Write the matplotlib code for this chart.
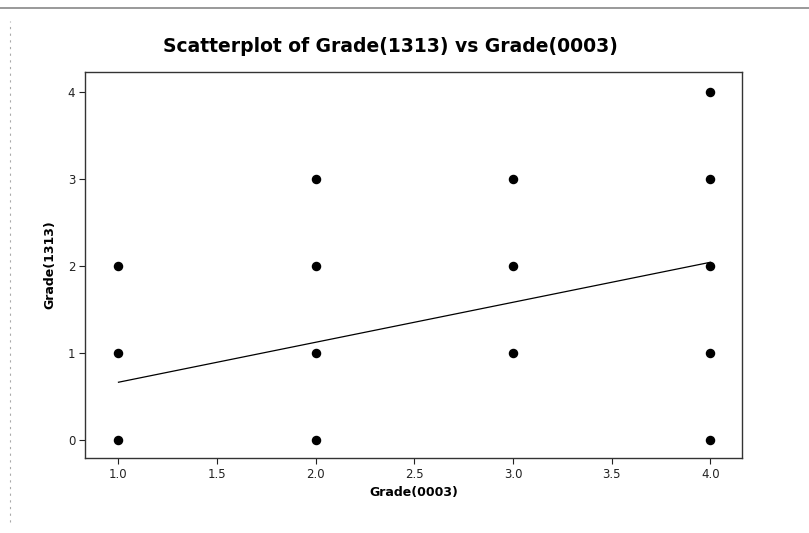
import matplotlib.pyplot as plt
from matplotlib.lines import Line2D

# data
grade_0003 = [1, 1, 1, 2, 2, 2, 2, 3, 3, 3, 4, 4, 4, 4, 4]
grade_1313 = [0, 1, 2, 0, 1, 2, 3, 1, 2, 3, 0, 1, 2, 3, 4]
fit_x = [1.0, 4.0]
fit_y = [0.66, 2.04]
xticks = [1.0, 1.5, 2.0, 2.5, 3.0, 3.5, 4.0]
yticks = [0, 1, 2, 3, 4]

plt.rcParams['font.family'] = ['DejaVu Sans']

fig = plt.figure(figsize=(8.09, 5.33), dpi=100)
fig.set_facecolor('white')
ax = fig.add_axes([0.105, 0.141, 0.812, 0.724])

ax.scatter(grade_0003, grade_1313, s=34, color='black', zorder=3)
ax.plot(fit_x, fit_y, color='black', linewidth=0.9)

ax.set_xlim(0.83, 4.16)
ax.set_ylim(-0.21, 4.23)
ax.set_xticks(xticks)
ax.set_xticklabels(['%.1f' % t for t in xticks])
ax.set_yticks(yticks)
ax.tick_params(direction='out', length=4, width=0.8, labelsize=8.5, colors='#222222', pad=3)
for s in ax.spines.values():
    s.set_linewidth(1.0)
    s.set_color('#333333')

ax.set_xlabel('Grade(0003)', fontsize=9, fontweight='bold', labelpad=4)
ax.set_ylabel('Grade(1313)', fontsize=9, fontweight='bold', labelpad=8)
fig.text(0.483, 0.912, 'Scatterplot of Grade(1313) vs Grade(0003)',
         ha='center', va='center', fontsize=13.5, fontweight='bold')

# scan border remnants
fig.add_artist(Line2D([0.0, 1.0], [0.985, 0.985], color='#888888', linewidth=1.2))
fig.add_artist(Line2D([0.012, 0.012], [0.02, 0.96], color='#aaaaaa', linewidth=0.8,
                      linestyle=(0, (2, 4))))

fig.savefig('out.png', dpi=100)
